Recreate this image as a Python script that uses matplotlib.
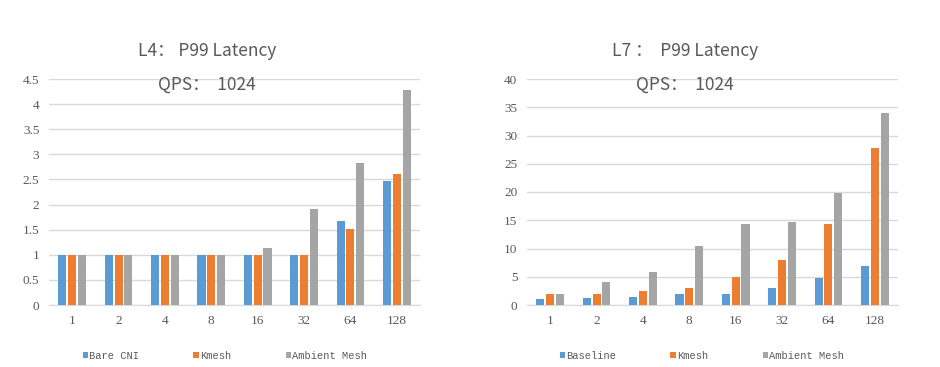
import matplotlib.pyplot as plt
from matplotlib.ticker import MultipleLocator, FuncFormatter
import numpy as np

# data
kategorier = ["1", "2", "4", "8", "16", "32", "64", "128"]

l4_bare = [1, 1, 1, 1, 1, 1, 1.67, 2.47]
l4_kmesh = [1, 1, 1, 1, 1, 1, 1.52, 2.60]
l4_ambient = [1, 1, 1, 1, 1.14, 1.91, 2.82, 4.28]

l7_base = [1.0, 1.2, 1.45, 2.0, 2.0, 3.05, 4.7, 6.85]
l7_kmesh = [2.0, 2.0, 2.4, 3.0, 5.0, 8.0, 14.4, 27.7]
l7_ambient = [2.0, 4.0, 5.85, 10.4, 14.3, 14.7, 19.9, 33.9]

l4_namn = ["Bare CNI", "Kmesh", "Ambient Mesh"]
l7_namn = ["Baseline", "Kmesh", "Ambient Mesh"]

farger = ["#5B9BD5", "#ED7D31", "#A5A5A5"]
textfarg = "#595959"
cjk = ["Noto Sans CJK SC", "DejaVu Sans"]

fig = plt.figure(figsize=(9.4, 3.67), dpi=100)


def rita(ax, serier, namn, ymax, steg, titel, cx, legx):
    x = np.arange(len(kategorier))
    bredd = 0.175
    avst = 0.212
    for i, (s, n) in enumerate(zip(serier, namn)):
        ax.bar(x + (i - 1) * avst, s, bredd, color=farger[i], label=n, zorder=3)
    ax.set_xlim(-0.5, len(kategorier) - 0.5)
    ax.set_ylim(0, ymax)
    ax.yaxis.set_major_locator(MultipleLocator(steg))
    ax.yaxis.set_major_formatter(FuncFormatter(lambda v, p: f"{v:g}"))
    ax.set_xticks(x)
    ax.set_xticklabels(kategorier)
    ax.grid(axis="y", color="#D9D9D9", linewidth=1, zorder=0)
    for s in ["top", "right", "left"]:
        ax.spines[s].set_visible(False)
    ax.spines["bottom"].set_color("#D9D9D9")
    ax.tick_params(length=0, colors=textfarg, labelsize=9.5, pad=7)
    for t in ax.get_xticklabels() + ax.get_yticklabels():
        t.set_family("Liberation Serif")

    # titel och QPS-rad
    fig.text(cx, 1 - 51 / 367, titel, ha="center", va="center",
             fontsize=12.5, color=textfarg, family=cjk)
    fig.text(cx, 1 - 85 / 367, "QPS：  1024", ha="center", va="center",
             fontsize=12.5, color=textfarg, family=cjk)

    fig.legend(*ax.get_legend_handles_labels(), loc="center",
               bbox_to_anchor=(legx, 1 - 356 / 367), ncol=3,
               frameon=False, prop={"family": "Liberation Mono", "size": 7.5},
               labelcolor=textfarg, handlelength=0.5, handleheight=0.5,
               handletextpad=0.15, columnspacing=5.2)


ax1 = fig.add_axes([49 / 940, 62 / 367, 371 / 940, 226 / 367])
rita(ax1, [l4_bare, l4_kmesh, l4_ambient], l4_namn, 4.5, 0.5,
     "L4： P99 Latency", 207 / 940, 225 / 940)

ax2 = fig.add_axes([527 / 940, 62 / 367, 371 / 940, 226 / 367])
rita(ax2, [l7_base, l7_kmesh, l7_ambient], l7_namn, 40, 5,
     "L7 ：  P99 Latency", 685 / 940, 702 / 940)

plt.savefig("out.png", dpi=100)
